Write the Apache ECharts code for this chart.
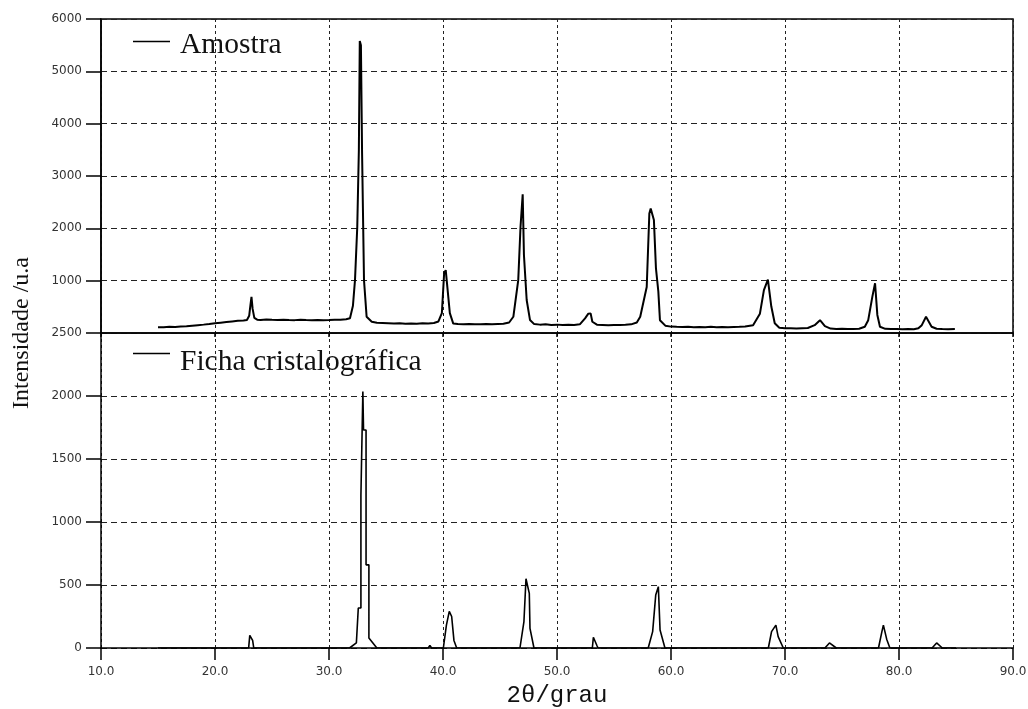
<!DOCTYPE html>
<html>
<head>
<meta charset="utf-8">
<script src="https://cdn.jsdelivr.net/npm/echarts@6/dist/echarts.min.js"></script>
<style>
html,body{margin:0;padding:0;background:#fff;}
#chart{width:1028px;height:709px;}
</style>
</head>
<body>
<div id="chart"></div>
<script>
// 2θ positions (degrees) and intensities for the measured sample (top panel)
const amostraX = [15.0,15.5,16.0,16.5,17.0,17.5,18.0,18.5,19.0,19.5,20.0,20.5,21.0,21.5,22.0,22.5,22.8,23.0,23.1,23.2,23.3,23.45,23.7,24.0,24.5,25.0,25.5,26.0,26.5,27.0,27.5,28.0,28.5,29.0,29.5,30.0,30.5,31.0,31.5,31.84,32.1,32.28,32.48,32.62,32.7,32.8,32.9,33.0,33.07,33.3,33.75,34.2,34.7,35.2,35.7,36.2,36.7,37.2,37.7,38.2,38.7,39.2,39.6,39.9,40.1,40.24,40.38,40.6,40.9,41.3,41.8,42.3,42.8,43.3,43.8,44.3,44.8,45.3,45.8,46.17,46.6,46.8,46.99,47.1,47.34,47.63,48.0,48.5,49.0,49.5,50.0,50.5,51.0,51.5,52.0,52.46,52.75,52.95,53.1,53.5,54.0,54.5,55.0,55.5,56.0,56.5,57.0,57.3,57.87,58.1,58.22,58.5,58.68,58.89,59.03,59.5,60.0,60.5,61.0,61.5,62.0,62.5,63.0,63.5,64.0,64.5,65.0,65.5,66.0,66.5,67.2,67.8,68.15,68.5,68.8,69.1,69.5,70.0,70.5,71.0,71.5,72.0,72.6,73.07,73.5,74.0,74.5,75.0,75.5,76.0,76.5,77.0,77.3,77.66,77.9,78.1,78.33,78.8,79.3,79.8,80.3,80.8,81.3,81.7,82.0,82.37,82.86,83.3,83.8,84.3,84.9];
const amostraY = [110,112,118,115,125,130,140,150,160,172,185,198,210,222,232,240,250,330,520,690,460,290,255,250,258,252,248,255,250,246,252,248,245,250,246,248,252,255,262,280,520,1010,2030,3500,5580,5500,3460,3460,1010,310,215,195,190,185,180,188,178,182,175,185,180,190,220,380,1145,1200,880,380,180,170,165,172,168,165,170,168,172,175,200,310,1010,2030,2650,1490,630,250,170,160,165,155,160,152,158,155,165,280,370,375,215,160,155,150,155,152,158,165,200,310,880,2285,2380,2160,1235,790,245,140,122,118,115,120,112,115,110,118,112,115,110,114,118,125,150,370,820,1020,505,185,100,92,90,88,92,95,150,245,130,85,78,80,75,78,82,120,245,690,950,345,120,80,75,78,74,76,72,90,150,310,120,82,76,74,75];

// 2θ positions and intensities of the reference card (bottom panel)
const fichaX = [15,22.95,23.05,23.2,23.3,23.4,31.8,32.4,32.57,32.57,32.8,32.8,32.97,32.97,33.03,33.03,33.25,33.25,33.5,33.5,34.2,38.7,38.85,39.0,40.03,40.3,40.55,40.76,40.96,41.2,46.75,47.1,47.28,47.37,47.57,47.63,47.98,53.1,53.19,53.5,53.6,58.0,58.39,58.66,58.89,59.04,59.47,68.54,68.82,69.2,69.4,69.85,73.5,73.9,74.5,78.2,78.5,78.63,78.92,79.2,82.9,83.3,83.8,85];
const fichaY = [0,0,100,100,60,0,0,40,50,317,317,1215,1215,2035,2035,1730,1730,660,660,80,0,0,20,0,0,182,290,250,60,0,0,210,550,555,434,156,0,0,85,20,0,0,130,420,487,143,0,0,130,182,90,0,0,40,0,0,130,182,70,0,0,40,0,0];

// axis ranges and tick steps
const xMin = 10, xMax = 90, xStep = 10;
const topMin = 0, topMax = 6000, topStep = 1000;
const botMin = 0, botMax = 2500, botStep = 500;

const seriesNames = ['Amostra', 'Ficha cristalográfica'];
const yTitle = 'Intensidade /u.a';
const xTitle = '2θ/grau';

const zip = (xs, ys) => xs.map((x, i) => [x, ys[i]]);

const labelFont = {fontFamily: 'DejaVu Sans', fontSize: 12, color: '#333'};
const vSplit = {show: true, lineStyle: {color: '#222', type: [3, 3], width: 1}};
const hSplit = {show: true, lineStyle: {color: '#222', type: [6, 4], width: 1}};
const axLine = {show: true, onZero: false, lineStyle: {color: '#000', width: 1.5}};
const legendText = (padTop) => ({
  rich: {t: {fontFamily: 'Liberation Serif', fontSize: 29.5, color: '#111', padding: [padTop, 0, 0, 5]}}
});

const chart = echarts.init(document.getElementById('chart'), null, {renderer: 'canvas'});
chart.setOption({
  animation: false,
  backgroundColor: '#fff',
  grid: [
    {left: 101, top: 19, width: 912, height: 314, show: true, borderColor: '#000', borderWidth: 1.5,
     backgroundColor: 'transparent', containLabel: false, outerBoundsMode: 'none'},
    {left: 101, top: 333, width: 912, height: 315, containLabel: false, outerBoundsMode: 'none'}
  ],
  legend: [
    {data: [seriesNames[0]], left: 133, top: 30, padding: 0, icon: 'rect', itemWidth: 37, itemHeight: 1.5,
     formatter: n => '{t|' + n + '}', textStyle: legendText(7)},
    {data: [seriesNames[1]], left: 133, top: 347, padding: 0, icon: 'rect', itemWidth: 37, itemHeight: 1.5,
     formatter: n => '{t|' + n + '}', textStyle: legendText(17)}
  ],
  xAxis: [
    {gridIndex: 0, type: 'value', min: xMin, max: xMax, interval: xStep,
     axisLine: axLine, axisTick: {show: true, length: 4, lineStyle: {color: '#000', width: 1.5}},
     axisLabel: {show: false}, splitLine: vSplit},
    {gridIndex: 1, type: 'value', min: xMin, max: xMax, interval: xStep,
     axisLine: axLine, axisTick: {show: true, length: 12, lineStyle: {color: '#000', width: 1.5}},
     axisLabel: Object.assign({margin: 18, formatter: v => v.toFixed(1)}, labelFont),
     splitLine: vSplit,
     name: xTitle, nameLocation: 'middle', nameGap: 36,
     nameTextStyle: {fontFamily: 'Liberation Mono', fontSize: 24, color: '#111'}}
  ],
  yAxis: [
    {gridIndex: 0, type: 'value', min: topMin, max: topMax, interval: topStep,
     axisLine: axLine, axisTick: {show: true, length: 15, lineStyle: {color: '#000', width: 1.5}},
     axisLabel: Object.assign({margin: 19, formatter: v => v === 0 ? '' : String(v)}, labelFont),
     splitLine: hSplit},
    {gridIndex: 1, type: 'value', min: botMin, max: botMax, interval: botStep,
     axisLine: axLine, axisTick: {show: true, length: 15, lineStyle: {color: '#000', width: 1.5}},
     axisLabel: Object.assign({margin: 19, formatter: v => String(v)}, labelFont),
     splitLine: hSplit}
  ],
  graphic: [
    {type: 'text', x: 22, y: 333, rotation: Math.PI / 2,
     style: {text: yTitle, font: '24px "Liberation Serif"', fill: '#111', textAlign: 'center', textVerticalAlign: 'middle'}}
  ],
  series: [
    {name: seriesNames[0], type: 'line', xAxisIndex: 0, yAxisIndex: 0, data: zip(amostraX, amostraY),
     showSymbol: false, symbol: 'none', lineStyle: {color: '#000', width: 2}, itemStyle: {color: '#000'}},
    {name: seriesNames[1], type: 'line', xAxisIndex: 1, yAxisIndex: 1, data: zip(fichaX, fichaY),
     showSymbol: false, symbol: 'none', lineStyle: {color: '#000', width: 1.6}, itemStyle: {color: '#000'}}
  ]
});
</script>
</body>
</html>
